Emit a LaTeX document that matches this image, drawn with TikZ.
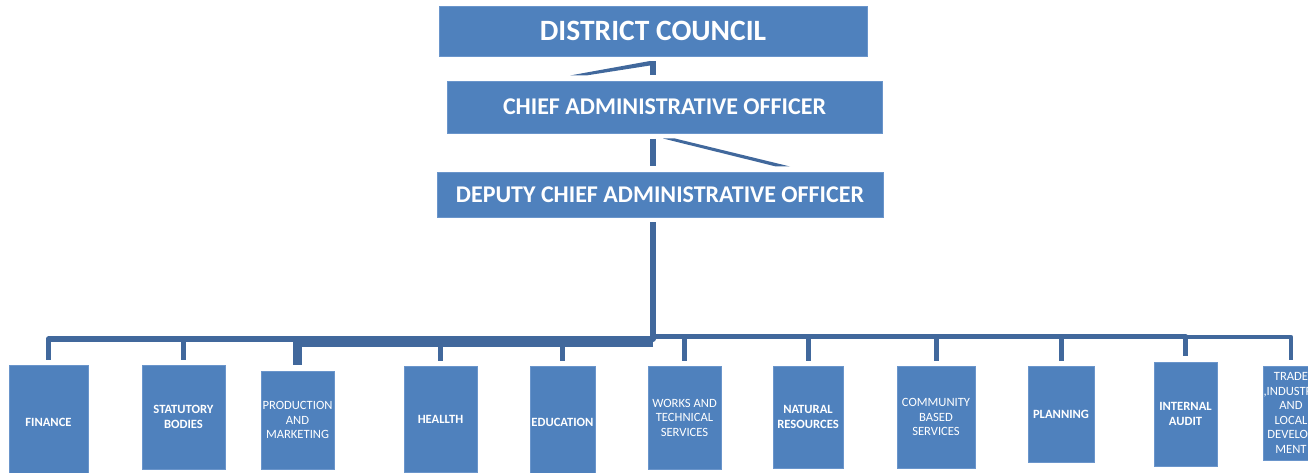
\documentclass[tikz,border=0pt]{standalone}
\usepackage{fontspec}
\setmainfont{Carlito}
\definecolor{boxblue}{HTML}{4F81BD}
\definecolor{boxedge}{HTML}{6A95CB}
\definecolor{linkblue}{HTML}{41689C}
\begin{document}
\begin{tikzpicture}[x=1pt,y=-1pt,
  box/.style={fill=boxblue, draw=boxedge, line width=0.7pt, inner sep=0pt,
    text=white, align=center},
  head/.style={box, font=\fontsize{24}{28}\selectfont\bfseries},
  unit/.style={box, font=\fontsize{12.6}{14.5}\selectfont},
  unitb/.style={box, font=\fontsize{12.6}{14.5}\selectfont\bfseries},
  trunk/.style={draw=linkblue, line width=6pt},
  bus/.style={draw=linkblue, line width=5.5pt, line join=round},
  busthick/.style={draw=linkblue, line width=8.5pt, line join=round},
  busthin/.style={draw=linkblue, line width=4.5pt, line join=round},
  stub/.style={draw=linkblue, line width=5pt}]
\useasboundingbox (0,0) rectangle (1308,473);
\clip (0,0) rectangle (1308,473);

% top of the hierarchy
\node[box, font=\fontsize{29.5}{33}\selectfont\bfseries,
  minimum width=428pt, minimum height=50pt] (dc) at (653,31) {DISTRICT COUNCIL};
\node[head, minimum width=435pt, minimum height=52pt] (cao) at (664.5,107)
  {CHIEF ADMINISTRATIVE OFFICER};
\node[head, minimum width=446pt, minimum height=45pt] (dcao) at (660,194.5)
  {DEPUTY CHIEF ADMINISTRATIVE OFFICER};

% departments
\node[unitb, minimum width=79pt, minimum height=115pt] (fin) at (48.5,422.5) {FINANCE};
\node[unitb, minimum width=83pt, minimum height=104pt] (stat) at (183.5,417) {STATUTORY\\BODIES};
\node[unit, minimum width=73pt, minimum height=98pt] (prod) at (297.5,420) {PRODUCTION\\AND\\MARKETING};
\node[unitb, minimum width=73pt, minimum height=106pt] (hlth) at (440.5,419) {HEALLTH};
\node[unitb, minimum width=65pt, minimum height=112pt] (edu) at (562.5,422) {EDUCATION};
\node[unit, minimum width=73pt, minimum height=103pt] (works) at (684.5,417.5) {WORKS AND\\TECHNICAL\\SERVICES};
\node[unitb, minimum width=70pt, minimum height=102pt] (nat) at (808,417) {NATURAL\\RESOURCES};
\node[unit, minimum width=78pt, minimum height=102pt] (cbs) at (936,417) {COMMUNITY\\BASED\\SERVICES};
\node[unitb, minimum width=66pt, minimum height=96pt] (plan) at (1061,414) {PLANNING};
\node[unitb, minimum width=63pt, minimum height=104pt] (audit) at (1185.5,414) {INTERNAL\\AUDIT};
\node[unit, minimum width=56pt, minimum height=94pt] (trade) at (1291,413)
  {TRADE\\,INDUSTRY\\AND\\LOCAL\\DEVELOP\\MENT};

% council -> chief administrative officer
\coordinate (c1) at (653,75.5);
\draw[trunk] ([yshift=-5pt]dc.south) -- (c1);
\fill[linkblue] (570,75.5) -- (650,61) -- (650,65.5) -- (586,75.5) -- cycle;

% chief -> deputy
\coordinate (c2) at (653,139);
\coordinate (c3) at (653,166.5);
\draw[trunk] (c2) -- (c3);
\fill[linkblue] (663,138.5) -- (675,138.5) -- (790,166.5) -- (776,166.5) -- cycle;

% deputy -> departments
\coordinate (jl) at (653,339);
\coordinate (jt) at (653,342.5);
\coordinate (jr) at (653,336.5);
\coordinate (ja) at (1186,337);
\coordinate (jd) at (653,222);
\draw[bus] (jd) -- (jl) -| ([yshift=5pt]fin.north);
\draw[busthick] (jt) -| ([yshift=6pt]prod.north);
\draw[bus] (jr) -| ([yshift=6pt]audit.north);
\draw[busthin] (ja) -| ([yshift=6pt]trade.north);
\foreach \n in {stat,hlth,edu}
  \draw[stub] (\n.north |- jl) -- ([yshift=5pt]\n.north);
\foreach \n in {works,nat,cbs,plan}
  \draw[stub] (\n.north |- jr) -- ([yshift=5pt]\n.north);
\end{tikzpicture}
\end{document}
